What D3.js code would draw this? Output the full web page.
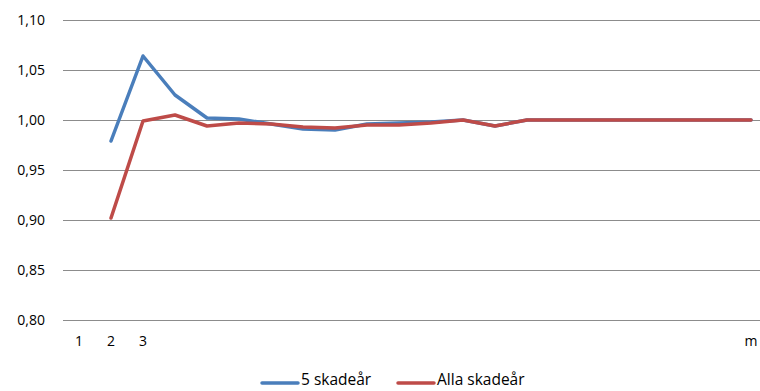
<!DOCTYPE html>
<html>
<head>
<meta charset="utf-8">
<script src="https://cdn.jsdelivr.net/npm/d3@7"></script>
<style>
  html, body { margin: 0; padding: 0; background: #fff; }
  svg { display: block; font-family: "Open Sans", "Noto Sans", sans-serif; }
</style>
</head>
<body>
<svg id="chart" width="760" height="391"></svg>
<script>
// Development periods 1..22; only the first three and the last are labelled
const periods = d3.range(1, 23);
const periodLabels = { 1: "1", 2: "2", 3: "3", 22: "m" };

// Factors per development period (period 1 has no value)
const fiveYears = [null, 0.979, 1.064, 1.025, 1.002, 1.001, 0.996, 0.991, 0.990, 0.996, 0.997, 0.998, 1.000, 0.994, 1.000, 1.000, 1.000, 1.000, 1.000, 1.000, 1.000, 1.000];
const allYears  = [null, 0.902, 0.999, 1.005, 0.994, 0.997, 0.996, 0.993, 0.992, 0.995, 0.995, 0.997, 1.000, 0.994, 1.000, 1.000, 1.000, 1.000, 1.000, 1.000, 1.000, 1.000];

const yTicks = [0.80, 0.85, 0.90, 0.95, 1.00, 1.05, 1.10];

const seriesNames = ["5 skadeår", "Alla skadeår"];
const seriesColors = ["#4A7EBB", "#BE4B48"];

const svg = d3.select("#chart");
const margin = { left: 63, top: 20, right: -7, bottom: 71 };
const W = 760, H = 391;

const x = d3.scaleBand()
  .domain(periods)
  .range([margin.left, W - margin.right]);

const y = d3.scaleLinear()
  .domain([0.80, 1.10])
  .range([H - margin.bottom, margin.top]);

const fmt = v => d3.format(".2f")(v).replace(".", ",");

// Horizontal gridlines
svg.append("g")
  .selectAll("line")
  .data(yTicks)
  .join("line")
  .attr("x1", margin.left)
  .attr("x2", W - margin.right)
  .attr("y1", d => Math.round(y(d)) + 0.5)
  .attr("y2", d => Math.round(y(d)) + 0.5)
  .attr("stroke", "#8c8c8c")
  .attr("stroke-width", 1);

// Y axis labels
const yAxis = d3.axisLeft(y).tickValues(yTicks).tickFormat(fmt).tickSize(0).tickPadding(0);
svg.append("g")
  .attr("transform", `translate(${margin.left - 18},0)`)
  .call(yAxis)
  .call(g => g.select(".domain").remove())
  .call(g => g.selectAll("text")
    .attr("font-size", 14)
    .attr("font-family", "Open Sans, Noto Sans, sans-serif")
    .attr("fill", "#000"));

// X axis labels
const xAxis = d3.axisBottom(x)
  .tickValues(periods.filter(p => periodLabels[p]))
  .tickFormat(p => periodLabels[p])
  .tickSize(0).tickPadding(0);
svg.append("g")
  .attr("transform", `translate(0,${H - margin.bottom + 16})`)
  .call(xAxis)
  .call(g => g.select(".domain").remove())
  .call(g => g.selectAll("text")
    .attr("font-size", 14)
    .attr("font-family", "Open Sans, Noto Sans, sans-serif")
    .attr("fill", "#000"));

// Series lines
const line = d3.line()
  .defined(d => d.v != null)
  .x(d => x(d.p) + x.bandwidth() / 2)
  .y(d => y(d.v));

[fiveYears, allYears].forEach((vals, i) => {
  const pts = periods.map((p, k) => ({ p, v: vals[k] }));
  svg.append("path")
    .datum(pts)
    .attr("d", line)
    .attr("fill", "none")
    .attr("stroke", seriesColors[i])
    .attr("stroke-width", 3.5)
    .attr("stroke-linejoin", "round")
    .attr("stroke-linecap", "round");
});

// Legend
const legendX = [262, 398];
const legend = svg.append("g");
seriesNames.forEach((name, i) => {
  const g = legend.append("g").attr("transform", `translate(${legendX[i]},383)`);
  g.append("line")
    .attr("x1", 0).attr("x2", 36)
    .attr("stroke", seriesColors[i])
    .attr("stroke-width", 3.5)
    .attr("stroke-linecap", "round");
  g.append("text")
    .attr("x", 39)
    .attr("y", 2)
    .attr("font-size", 15.5)
    .attr("fill", "#000")
    .text(name);
});
</script>
</body>
</html>
